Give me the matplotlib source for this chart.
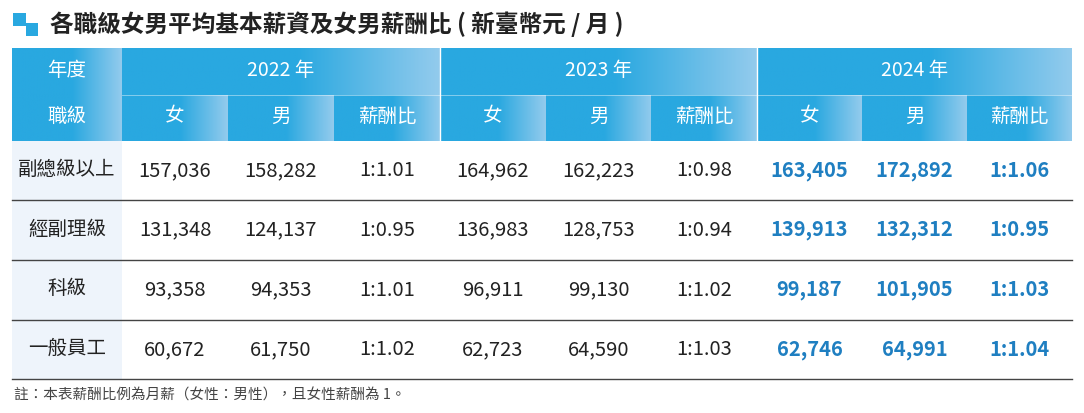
import numpy as np
import matplotlib.pyplot as plt
from matplotlib.colors import LinearSegmentedColormap
from matplotlib.patches import Rectangle

plt.rcParams['font.family'] = 'Noto Sans CJK TC'

title = "各職級女男平均基本薪資及女男薪酬比 ( 新臺幣元 / 月 )"
years = ["2022 年", "2023 年", "2024 年"]
sub_headers = ["女", "男", "薪酬比"]
levels = ["副總級以上", "經副理級", "科級", "一般員工"]
female = [[157036, 131348, 93358, 60672],
          [164962, 136983, 96911, 62723],
          [163405, 139913, 99187, 62746]]
male = [[158282, 124137, 94353, 61750],
        [162223, 128753, 99130, 64590],
        [172892, 132312, 101905, 64991]]
ratio = [["1:1.01", "1:0.95", "1:1.01", "1:1.02"],
         ["1:0.98", "1:0.94", "1:1.02", "1:1.03"],
         ["1:1.06", "1:0.95", "1:1.03", "1:1.04"]]
note = "註：本表薪酬比例為月薪（女性：男性），且女性薪酬為 1。"

W, H = 1084, 413
fig = plt.figure(figsize=(W / 100, H / 100), dpi=100)
ax = fig.add_axes([0, 0, 1, 1])
ax.set_xlim(0, W)
ax.set_ylim(H, 0)
ax.axis('off')

blue = '#29a8e0'
light = '#93cbed'
cmap = LinearSegmentedColormap.from_list('g', [(0, blue), (0.55, blue), (1, light)])
grad = np.linspace(0, 1, 256).reshape(1, -1)


def gcell(x0, x1, y0, y1):
    ax.imshow(grad, cmap=cmap, extent=(x0, x1, y1, y0), aspect='auto', zorder=1)


# title and icon
ax.add_patch(Rectangle((13, 13), 13, 13, color='#29a8e0', lw=0))
ax.add_patch(Rectangle((26, 23), 12, 13, color='#29a8e0', lw=0))
ax.text(50, 24, title, fontsize=17, fontweight='bold', color='#222222', va='center')

x_first = (12, 122)
groups = [122, 440, 757, 1072]
y_h = [48, 95, 141]
rows_y = [141, 200, 260, 320, 379]
hdr = dict(color='white', fontsize=14, fontweight='medium', ha='center', va='center', zorder=3)

# header
gcell(x_first[0], x_first[1], y_h[0], y_h[2])
for g in range(3):
    gx0, gx1 = groups[g], groups[g + 1]
    gcell(gx0, gx1, y_h[0], y_h[1])
    w = (gx1 - gx0) / 3
    for k in range(3):
        gcell(gx0 + k * w, gx0 + (k + 1) * w, y_h[1], y_h[2])
    ax.text((gx0 + gx1) / 2, 70, years[g], **hdr)
    for k in range(3):
        ax.text(gx0 + (k + 0.5) * w, 116, sub_headers[k], **hdr)
    if g > 0:
        ax.plot([gx0, gx0], [y_h[0], y_h[2]], color='white', lw=1, zorder=3)
ax.plot([x_first[1], groups[-1]], [y_h[1], y_h[1]], color='white', lw=0.6, alpha=0.5, zorder=3)
ax.text(67, 70, "年度", **hdr)
ax.text(67, 116, "職級", **hdr)

# body
for i, lv in enumerate(levels):
    y0, y1 = rows_y[i], rows_y[i + 1]
    yc = (y0 + y1) / 2
    ax.add_patch(Rectangle((x_first[0], y0), x_first[1] - x_first[0], y1 - y0,
                           color='#eef4fb', lw=0, zorder=1))
    ax.text(67, yc - 1, lv, fontsize=14, fontweight='medium', ha='center', va='center',
            color='#222222', zorder=3)
    for g in range(3):
        gx0, gx1 = groups[g], groups[g + 1]
        w = (gx1 - gx0) / 3
        vals = [f"{female[g][i]:,}", f"{male[g][i]:,}", ratio[g][i]]
        hl = g == 2
        for k in range(3):
            ax.text(gx0 + (k + 0.5) * w, yc, vals[k], fontsize=14.5, ha='center', va='center',
                    color='#1f7fc1' if hl else '#222222', fontweight='bold' if hl else 'normal',
                    zorder=3)
    ax.plot([x_first[0], groups[-1]], [y1, y1], color='#444444', lw=1, zorder=3)

ax.text(14, 396, note, fontsize=10.5, color='#444444', va='center')

plt.savefig('out.png', dpi=100)
